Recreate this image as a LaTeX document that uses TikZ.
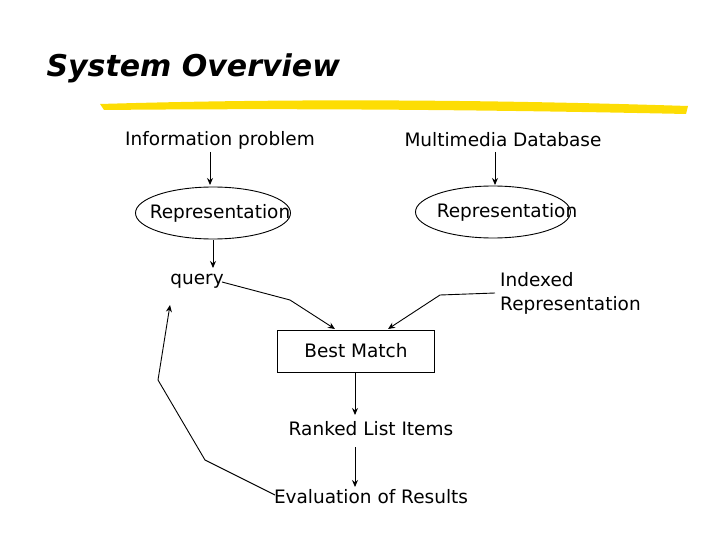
\documentclass[tikz,border=0pt]{standalone}
\usepackage{fontspec}
\setmainfont{DejaVu Sans}
\usetikzlibrary{shapes.geometric,arrows.meta}
\begin{document}
\begin{tikzpicture}[x=1pt,y=-1pt,
  lbl/.style={font=\fontsize{18.5}{24}\selectfont,inner sep=0pt},
  ell/.style={draw,ellipse,line width=0.9pt,minimum width=155pt,minimum height=52pt},
  arr/.style={-{Stealth[length=7pt,width=6pt]},line width=0.9pt}]
\useasboundingbox (0,0) rectangle (720,540);
\node[font=\fontsize{30}{34}\selectfont\bfseries\itshape,anchor=west] (title) at (43,68) {System Overview};
\fill[yellow!80!orange] (100,104) .. controls (300,98) and (500,100) .. (688,106) -- (686,114) .. controls (500,110) and (300,108) .. (104,110) -- cycle;
\node[lbl] (ip) at (220,140) {Information problem};
\node[lbl] (md) at (503,140) {Multimedia Database};
\node[ell] (e1) at (213,213) {};
\node[lbl] (r1) at (220,213) {Representation};
\node[ell] (e2) at (493,212) {};
\node[lbl] (r2) at (507,212) {Representation};
\node[lbl] (q) at (197,281) {query};
\node[lbl,align=left,anchor=west] (ir) at (500,293) {Indexed\\Representation};
\node[draw,line width=0.9pt,minimum width=157pt,minimum height=42pt] (bm) at (356,351) {};
\node[lbl] (bmt) at (356,351) {Best Match};
\node[lbl] (rl) at (371,429) {Ranked List Items};
\node[lbl] (ev) at (371,497) {Evaluation of Results};
\draw[arr] (210,152) -- (210,185);
\draw[arr] (495,152) -- (495,185);
\draw[arr] (213,240) -- (213,268);
\draw[arr] (222,282) -- (290,300) -- (335,329);
\draw[arr] (495,293) -- (440,295) -- (388,329);
\draw[arr] (355,372) -- (355,415);
\draw[arr] (355,447) -- (355,487);
\draw[arr] (275,495) -- (205,460) -- (158,380) -- (170,305);
\end{tikzpicture}
\end{document}
